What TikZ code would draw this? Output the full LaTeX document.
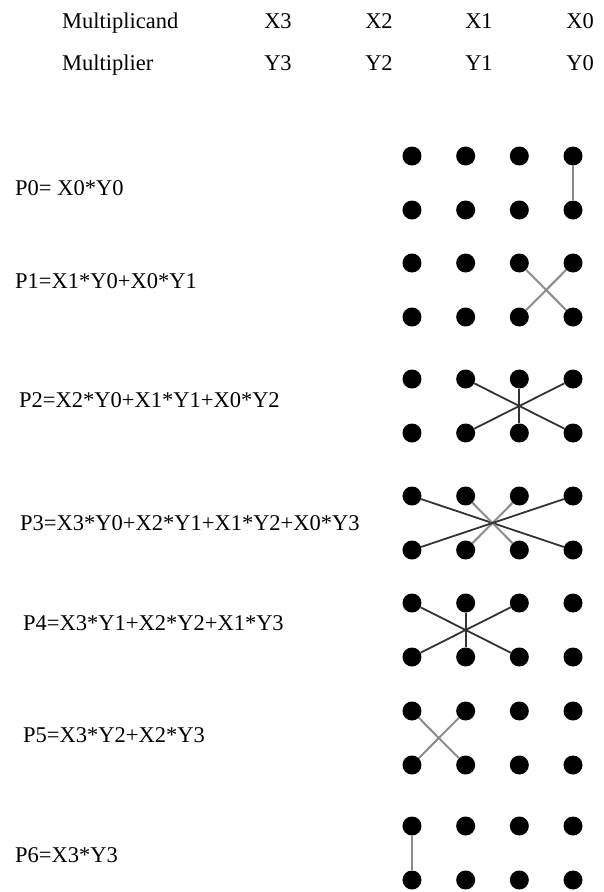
\documentclass[tikz,border=0pt]{standalone}
\usepackage{fontspec}
\setmainfont{Liberation Serif}
\tikzset{
  dot/.style={circle,fill=black,inner sep=0pt,minimum size=19pt},
  greyline/.style={line width=2pt,draw=black!45},
  darkline/.style={line width=1.8pt,draw=black!80},
  lbl/.style={anchor=west,inner sep=0pt,text height=14.8pt,text depth=0pt,
    font=\fontsize{22.5}{26}\selectfont},
}
\begin{document}
\begin{tikzpicture}[x=1pt,y=-1pt]

\useasboundingbox (0,0) rectangle (603,892);

% Headings
\node[lbl] (mcand) at (62,21) {Multiplicand};
\node[lbl] (mplier) at (62,63) {Multiplier};
\foreach \i/\x in {3/278,2/379,1/479,0/580}{
  \node[lbl,anchor=center] (hx\i) at (\x,21) {X\i};
  \node[lbl,anchor=center] (hy\i) at (\x,63) {Y\i};
}

% Partial products
\foreach \k/\lx/\ly/\txt in {0/15/188/{P0= X0*Y0},1/15/281.5/{P1=X1*Y0+X0*Y1},
    2/19/400.5/{P2=X2*Y0+X1*Y1+X0*Y2},3/20/523.5/{P3=X3*Y0+X2*Y1+X1*Y2+X0*Y3},
    4/23/623/{P4=X3*Y1+X2*Y2+X1*Y3},5/23/735/{P5=X3*Y2+X2*Y3},6/15/855.5/{P6=X3*Y3}}
  \node[lbl] (p\k) at (\lx,\ly) {\txt};

% Dot grids: top row X, bottom row Y
\foreach \k/\ty in {0/156,1/263,2/379,3/496,4/603,5/711,6/826}{
  \foreach \i in {0,...,3}{
    \node[dot] (p\k x\i) at (573-53.67*\i,\ty) {};
    \node[dot] (p\k y\i) at (573-53.67*\i,\ty+54) {};
  }
}

% P0
\draw[greyline] (p0x0) -- (p0y0);
% P1
\draw[greyline] (p1x1) -- (p1y0);
\draw[greyline] (p1x0) -- (p1y1);
% P2
\draw[darkline] (p2x2) -- (p2y0);
\draw[darkline] (p2x1) -- (p2y1);
\draw[darkline] (p2x0) -- (p2y2);
% P3
\draw[darkline] (p3x3) -- (p3y0);
\draw[greyline] (p3x2) -- (p3y1);
\draw[greyline] (p3x1) -- (p3y2);
\draw[darkline] (p3x0) -- (p3y3);
% P4
\draw[darkline] (p4x3) -- (p4y1);
\draw[darkline] (p4x2) -- (p4y2);
\draw[darkline] (p4x1) -- (p4y3);
% P5
\draw[greyline] (p5x3) -- (p5y2);
\draw[greyline] (p5x2) -- (p5y3);
% P6
\draw[greyline] (p6x3) -- (p6y3);

\end{tikzpicture}
\end{document}
